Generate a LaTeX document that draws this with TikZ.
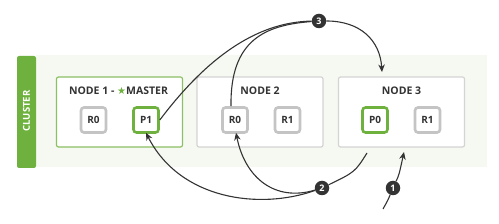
\documentclass[tikz,border=0pt]{standalone}
\usepackage{fontspec}
\setmainfont{Open Sans}
\newfontfamily\symfont{DejaVu Sans}
\usetikzlibrary{arrows.meta}
\definecolor{esgreen}{HTML}{6FB13F}
\definecolor{boxgreen}{HTML}{8CC063}
\definecolor{boxgray}{HTML}{D4D4D4}
\definecolor{shardgray}{HTML}{C4C4C4}
\definecolor{ink}{HTML}{333333}
\definecolor{clusterbg}{HTML}{F6F9F2}
\begin{document}
\begin{tikzpicture}[x=1pt,y=-1pt,
	esnode/.style={draw=boxgray,line width=1.2pt,fill=white,rounded corners=2pt,minimum width=126pt,minimum height=70pt,inner sep=0pt},
	shard/.style={draw=shardgray,line width=2.6pt,fill=white,rounded corners=3pt,minimum size=25pt,inner sep=0pt,text=ink,font=\bfseries\fontsize{10}{10}\selectfont},
	primary/.style={shard,draw=esgreen},
	title/.style={text=ink,font=\bfseries\fontsize{10.5}{11}\selectfont,inner sep=0pt},
	stepdot/.style={circle,fill=ink,text=white,inner sep=0pt,minimum size=14.5pt,font=\bfseries\fontsize{9}{9}\selectfont},
	flow/.style={draw=ink,line width=1.1pt,-{Stealth[length=7.5pt,width=6.5pt]}},
	link/.style={draw=ink,line width=1.1pt}]
	\useasboundingbox (0,0) rectangle (499,224);
	% cluster
	\fill[clusterbg] (36,55) rectangle (487,167);
	\fill[esgreen,rounded corners=2pt] (17,56) rectangle (36,168);
	\node[rotate=90,text=white,font=\bfseries\fontsize{9.5}{9.5}\selectfont] (cl) at (26.5,111) {CLUSTER};
	% nodes
	\node[esnode,draw=boxgreen] (n1) at (119.5,112) {};
	\node[esnode] (n2) at (260,112) {};
	\node[esnode] (n3) at (401.5,112) {};
	\node[title] (t1) at (118.5,91) {NODE 1 - {\color{esgreen}\symfont\fontsize{10}{10}\selectfont★}MASTER};
	\node[title] (t2) at (260,91) {NODE 2};
	\node[title] (t3) at (401.5,91) {NODE 3};
	% shards
	\node[shard] (a0) at (93.5,120) {R0};
	\node[primary] (a1) at (146,120) {P1};
	\node[shard] (b0) at (235,120) {R0};
	\node[shard] (b1) at (287.5,120) {R1};
	\node[primary] (c0) at (375,120) {P0};
	\node[shard] (c1) at (427.5,120) {R1};
	% steps
	\node[stepdot] (s1) at (393,188) {1};
	\node[stepdot] (s2) at (322,188) {2};
	\node[stepdot] (s3) at (319,21) {3};
	\coordinate (in1) at (383,209);
	\coordinate (tip1) at (404,152);
	\coordinate (tip3) at (382,72);
	\coordinate (out2) at (367,153);
	% step 1
	\draw[link] (in1) .. controls (388,200) .. (s1);
	\draw[flow] (s1) .. controls (399,175) .. (tip1);
	% step 2
	\draw[link] (out2) .. controls (355,172) .. (s2);
	\draw[flow] (s2) .. controls (260,210) and (180,200) .. ([yshift=1pt]a1.south);
	\draw[flow] (s2) .. controls (275,202) and (245,178) .. ([xshift=1pt,yshift=1pt]b0.south);
	% step 3
	\draw[link] (a1.east) .. controls (205,60) and (255,22) .. (s3);
	\draw[link] ([xshift=-4pt]b0.north) .. controls (230,40) and (265,25) .. (s3);
	\draw[flow] (s3) .. controls (360,21) and (380,40) .. (tip3);
\end{tikzpicture}
\end{document}
